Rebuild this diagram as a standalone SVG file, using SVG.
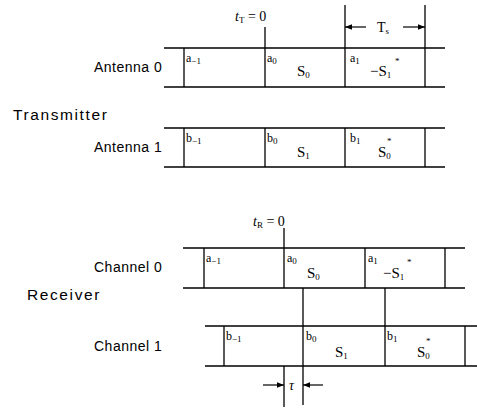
<svg xmlns="http://www.w3.org/2000/svg" width="477" height="408" viewBox="0 0 477 408">
  <style>
    .bg { fill: #ffffff; }
    .rail { stroke: #000; stroke-width: 1.5; fill: none; }
    .tick { stroke: #000; stroke-width: 1.3; fill: none; }
    .dim { stroke: #000; stroke-width: 1.2; fill: none; }
    .side { font-family: "Liberation Sans", Arial, sans-serif; font-size: 15.5px; letter-spacing: 1.6px; fill: #000; }
    .row { font-family: "Liberation Sans", Arial, sans-serif; font-size: 14px; letter-spacing: 0.5px; fill: #000; }
    .cell { font-family: "Liberation Serif", "Times New Roman", serif; font-size: 12px; fill: #000; }
    .sym { font-family: "Liberation Serif", "Times New Roman", serif; font-size: 15px; fill: #000; }
    .mark { font-family: "Liberation Serif", "Times New Roman", serif; font-size: 9px; fill: #000; }
    .time { font-family: "Liberation Serif", "Times New Roman", serif; font-size: 14px; fill: #000; }
    .sub { font-size: 9px; }
  </style>
  <defs>
    <marker id="head" viewBox="0 0 10 10" refX="10" refY="5" markerWidth="7" markerHeight="7" orient="auto" markerUnits="userSpaceOnUse">
      <path d="M0,1 L10,5 L0,9 Z" fill="#000"/>
    </marker>
  </defs>

  <rect class="bg" x="0" y="0" width="477" height="408"/>

  <!-- section titles -->
  <text class="side" x="13" y="120">Transmitter</text>
  <text class="side" x="27" y="300">Receiver</text>

  <!-- transmitter, antenna 0 -->
  <g id="antenna0">
    <text class="row" x="94" y="72">Antenna 0</text>
    <line class="rail" x1="164" y1="48" x2="445" y2="48"/>
    <line class="rail" x1="164" y1="87" x2="445" y2="87"/>
    <line class="tick" x1="184" y1="48" x2="184" y2="87"/>
    <line class="tick" x1="265" y1="27" x2="265" y2="87"/>
    <line class="tick" x1="345" y1="5" x2="345" y2="87"/>
    <line class="tick" x1="425" y1="5" x2="425" y2="87"/>
    <text class="cell" x="186" y="62">a<tspan class="sub" dy="2">−1</tspan></text>
    <text class="cell" x="267" y="62">a<tspan class="sub" dy="2">0</tspan></text>
    <text class="sym" x="297" y="76">S<tspan class="sub" dy="2">0</tspan></text>
    <text class="cell" x="350" y="62">a<tspan class="sub" dy="2">1</tspan></text>
    <text class="sym" x="370" y="76">−S<tspan class="sub" dy="2">1</tspan></text>
    <text class="mark" x="395" y="64">*</text>
  </g>

  <!-- transmitter, antenna 1 -->
  <g id="antenna1">
    <text class="row" x="94" y="152">Antenna 1</text>
    <line class="rail" x1="164" y1="128" x2="445" y2="128"/>
    <line class="rail" x1="164" y1="167" x2="445" y2="167"/>
    <line class="tick" x1="184" y1="128" x2="184" y2="167"/>
    <line class="tick" x1="265" y1="128" x2="265" y2="167"/>
    <line class="tick" x1="345" y1="128" x2="345" y2="167"/>
    <line class="tick" x1="425" y1="128" x2="425" y2="167"/>
    <text class="cell" x="186" y="142">b<tspan class="sub" dy="2">−1</tspan></text>
    <text class="cell" x="267" y="142">b<tspan class="sub" dy="2">0</tspan></text>
    <text class="sym" x="297" y="157">S<tspan class="sub" dy="2">1</tspan></text>
    <text class="cell" x="350" y="142">b<tspan class="sub" dy="2">1</tspan></text>
    <text class="sym" x="378" y="157">S<tspan class="sub" dy="2">0</tspan></text>
    <text class="mark" x="387" y="144">*</text>
  </g>

  <!-- receiver, channel 0 -->
  <g id="channel0">
    <text class="row" x="94" y="272">Channel 0</text>
    <line class="rail" x1="183" y1="248" x2="465" y2="248"/>
    <line class="rail" x1="183" y1="288" x2="465" y2="288"/>
    <line class="tick" x1="204" y1="248" x2="204" y2="288"/>
    <line class="tick" x1="284" y1="228" x2="284" y2="288"/>
    <line class="tick" x1="365" y1="248" x2="365" y2="288"/>
    <line class="tick" x1="445" y1="248" x2="445" y2="288"/>
    <text class="cell" x="206" y="262">a<tspan class="sub" dy="2">−1</tspan></text>
    <text class="cell" x="287" y="262">a<tspan class="sub" dy="2">0</tspan></text>
    <text class="sym" x="307" y="278">S<tspan class="sub" dy="2">0</tspan></text>
    <text class="cell" x="368" y="262">a<tspan class="sub" dy="2">1</tspan></text>
    <text class="sym" x="383" y="278">−S<tspan class="sub" dy="2">1</tspan></text>
    <text class="mark" x="407" y="265">*</text>
  </g>

  <!-- receiver, channel 1 -->
  <g id="channel1">
    <text class="row" x="94" y="351">Channel 1</text>
    <line class="rail" x1="205" y1="326" x2="477" y2="326"/>
    <line class="rail" x1="205" y1="366" x2="477" y2="366"/>
    <line class="tick" x1="224" y1="326" x2="224" y2="366"/>
    <line class="tick" x1="303" y1="288" x2="303" y2="405"/>
    <line class="tick" x1="385" y1="288" x2="385" y2="366"/>
    <line class="tick" x1="465" y1="326" x2="465" y2="366"/>
    <text class="cell" x="226" y="340">b<tspan class="sub" dy="2">−1</tspan></text>
    <text class="cell" x="306" y="340">b<tspan class="sub" dy="2">0</tspan></text>
    <text class="sym" x="335" y="357">S<tspan class="sub" dy="2">1</tspan></text>
    <text class="cell" x="387" y="340">b<tspan class="sub" dy="2">1</tspan></text>
    <text class="sym" x="417" y="357">S<tspan class="sub" dy="2">0</tspan></text>
    <text class="mark" x="426" y="344">*</text>
  </g>

  <!-- timing references and dimension arrows -->
  <g id="connectors">
    <text class="time" x="235" y="21"><tspan font-style="italic">t</tspan><tspan class="sub" dy="2">T</tspan><tspan dy="-2"> = 0</tspan></text>
    <text class="time" x="253" y="226"><tspan font-style="italic">t</tspan><tspan class="sub" dy="2">R</tspan><tspan dy="-2"> = 0</tspan></text>

    <line class="dim" x1="366" y1="27" x2="345" y2="27" marker-end="url(#head)"/>
    <text class="time" x="377" y="32">T<tspan class="sub" dy="2">s</tspan></text>
    <line class="dim" x1="403" y1="27" x2="425" y2="27" marker-end="url(#head)"/>

    <line class="tick" x1="284" y1="366" x2="284" y2="407"/>
    <line class="dim" x1="263" y1="385" x2="284" y2="385" marker-end="url(#head)"/>
    <line class="dim" x1="323" y1="385" x2="303" y2="385" marker-end="url(#head)"/>
    <text class="time" x="289" y="390" font-style="italic">τ</text>
  </g>
</svg>
